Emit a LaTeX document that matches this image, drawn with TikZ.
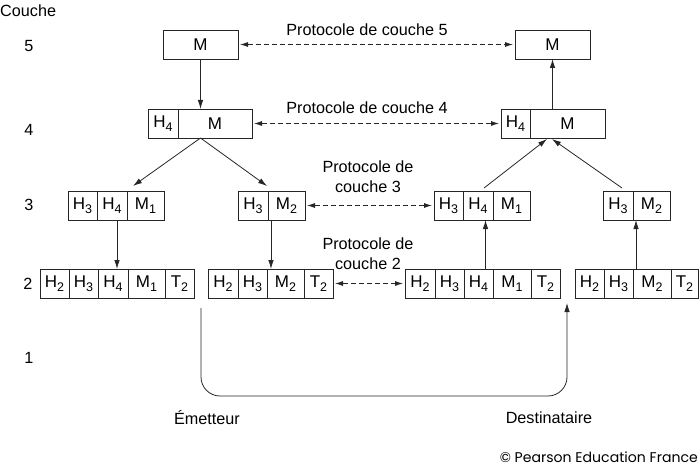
\documentclass[tikz,border=0pt]{standalone}
\usepackage{fontspec}
\setmainfont{Liberation Sans}
\newfontfamily\copyfont{Poppins}
\usetikzlibrary{arrows.meta,calc}
\newcommand\sbs[1]{\raisebox{-3.8pt}{\fontsize{12.5}{12.5}\selectfont #1}}
\begin{document}
\begin{tikzpicture}[x=1pt,y=-1pt,
  cell/.style={draw=black!85, line width=0.8pt, minimum height=29pt, inner sep=0pt, outer sep=0pt, anchor=west, font=\fontsize{17}{18}\selectfont},
  lbl/.style={font=\fontsize{16.2}{20}\selectfont, inner sep=0pt, align=center},
  link/.style={draw=black!85, line width=0.8pt, -{Latex[length=9pt,width=5.5pt]}},
  peer/.style={draw=black!85, line width=0.8pt, dash pattern=on 5pt off 3pt, {Latex[length=8pt,width=5pt]}-{Latex[length=8pt,width=5pt]}, shorten >=2pt, shorten <=2pt}]
\useasboundingbox (0,0) rectangle (700,468);
% layer 5
\node[cell, minimum width=75pt] (l5) at (163,44.5) {M};
\node[cell, minimum width=75pt] (r5) at (515,44.5) {M};
% layer 4
\node[cell, minimum width=30pt] (l4h) at (148,123.5) {H\sbs{4}};
\node[cell, minimum width=74pt] (l4m) at (l4h.east) {M};
\node[cell, minimum width=29pt] (r4h) at (501,123.5) {H\sbs{4}};
\node[cell, minimum width=75pt] (r4m) at (r4h.east) {M};
% layer 3
\node[cell, minimum width=29pt] (l3a-h3) at (68,205.5) {H\sbs{3}};
\node[cell, minimum width=30pt] (l3a-h4) at (l3a-h3.east) {H\sbs{4}};
\node[cell, minimum width=37pt] (l3a-m1) at (l3a-h4.east) {M\sbs{1}};
\node[cell, minimum width=30pt] (l3b-h3) at (238,205.5) {H\sbs{3}};
\node[cell, minimum width=37pt] (l3b-m2) at (l3b-h3.east) {M\sbs{2}};
\node[cell, minimum width=29pt] (r3a-h3) at (434,205.5) {H\sbs{3}};
\node[cell, minimum width=30pt] (r3a-h4) at (r3a-h3.east) {H\sbs{4}};
\node[cell, minimum width=37pt] (r3a-m1) at (r3a-h4.east) {M\sbs{1}};
\node[cell, minimum width=30pt] (r3b-h3) at (603,205.5) {H\sbs{3}};
\node[cell, minimum width=37pt] (r3b-m2) at (r3b-h3.east) {M\sbs{2}};
% layer 2
\node[cell, minimum width=29pt] (l2a-h2) at (40,283.5) {H\sbs{2}};
\node[cell, minimum width=29pt] (l2a-h3) at (l2a-h2.east) {H\sbs{3}};
\node[cell, minimum width=30pt] (l2a-h4) at (l2a-h3.east) {H\sbs{4}};
\node[cell, minimum width=37pt] (l2a-m1) at (l2a-h4.east) {M\sbs{1}};
\node[cell, minimum width=29pt] (l2a-t2) at (l2a-m1.east) {T\sbs{2}};
\node[cell, minimum width=30pt] (l2b-h2) at (208,283.5) {H\sbs{2}};
\node[cell, minimum width=29pt] (l2b-h3) at (l2b-h2.east) {H\sbs{3}};
\node[cell, minimum width=37pt] (l2b-m2) at (l2b-h3.east) {M\sbs{2}};
\node[cell, minimum width=29pt] (l2b-t2) at (l2b-m2.east) {T\sbs{2}};
\node[cell, minimum width=30pt] (r2a-h2) at (405,283.5) {H\sbs{2}};
\node[cell, minimum width=29pt] (r2a-h3) at (r2a-h2.east) {H\sbs{3}};
\node[cell, minimum width=29pt] (r2a-h4) at (r2a-h3.east) {H\sbs{4}};
\node[cell, minimum width=38pt] (r2a-m1) at (r2a-h4.east) {M\sbs{1}};
\node[cell, minimum width=29pt] (r2a-t2) at (r2a-m1.east) {T\sbs{2}};
\node[cell, minimum width=29pt] (r2b-h2) at (575,283.5) {H\sbs{2}};
\node[cell, minimum width=29pt] (r2b-h3) at (r2b-h2.east) {H\sbs{3}};
\node[cell, minimum width=38pt] (r2b-m2) at (r2b-h3.east) {M\sbs{2}};
\node[cell, minimum width=27pt] (r2b-t2) at (r2b-m2.east) {T\sbs{2}};
% vertical links
\draw[link] (l5.south) -- (l5.south |- l4m.north);
\draw[link] (r5.south |- r4m.north) -- (r5.south);
\coordinate (splitL) at (l5.south |- l4m.south);
\coordinate (inL1) at ($(l3a-m1.north west)+(6,-5)$);
\coordinate (inL2) at ($(l3b-h3.north east)+(-1,-5)$);
\draw[link] (splitL) -- (inL1);
\draw[link] (splitL) -- (inL2);
\coordinate (joinR1) at ($(r4m.south west)+(17,1)$);
\coordinate (joinR2) at ($(r4m.south west)+(22,1)$);
\coordinate (outR1) at ($(r3a-h4.north)+(6,-3)$);
\coordinate (outR2) at ($(r3b-h3.north east)+(-11,-3)$);
\draw[link] (outR1) -- (joinR1);
\draw[link] (outR2) -- (joinR2);
\draw[link] ([xshift=5pt]l3a-h4.south) -- ([xshift=5pt]l3a-h4.south |- l2a-h4.north);
\draw[link] ([xshift=3pt]l3b-h3.south east) -- ([xshift=3pt]l3b-h3.south east |- l2b-m2.north);
\draw[link] ([xshift=7pt]r2a-h4.north) -- ([xshift=7pt]r2a-h4.north |- r3a-h4.south);
\draw[link] ([xshift=3pt]r2b-m2.north west) -- ([xshift=3pt]r2b-m2.north west |- r3b-m2.south);
% peer protocols
\draw[peer] (l5.east) -- (r5.west);
\draw[peer] (l4m.east) -- (r4h.west);
\draw[peer] (l3b-m2.east) -- (r3a-h3.west);
\draw[peer] (l2b-t2.east) -- (r2a-h2.west);
% physical layer
\coordinate (emit) at (201,308);
\coordinate (bl) at (201,396);
\coordinate (br) at (567,396);
\coordinate (recv) at (567,303);
\draw[link, rounded corners=19pt] (emit) -- (bl) -- (br) -- (recv);
% labels
\node[lbl, anchor=west] (couche) at (0,11) {Couche};
\node[lbl] (n5) at (29,46) {5};
\node[lbl] (n4) at (29,130) {4};
\node[lbl] (n3) at (29,205) {3};
\node[lbl] (n2) at (28,284) {2};
\node[lbl] (n1) at (29,358) {1};
\node[lbl] (p5) at (367,30) {Protocole de couche 5};
\node[lbl] (p4) at (367,108) {Protocole de couche 4};
\node[lbl] (p3) at (368,177) {Protocole de\\couche 3};
\node[lbl] (p2) at (368,254) {Protocole de\\couche 2};
\node[lbl] (em) at (207,418) {Émetteur};
\node[lbl] (de) at (549,418) {Destinataire};
\node[anchor=east, inner sep=0pt] (copy) at (698,457) {\copyfont\resizebox{198pt}{!}{© Pearson Education France}};
\end{tikzpicture}
\end{document}
